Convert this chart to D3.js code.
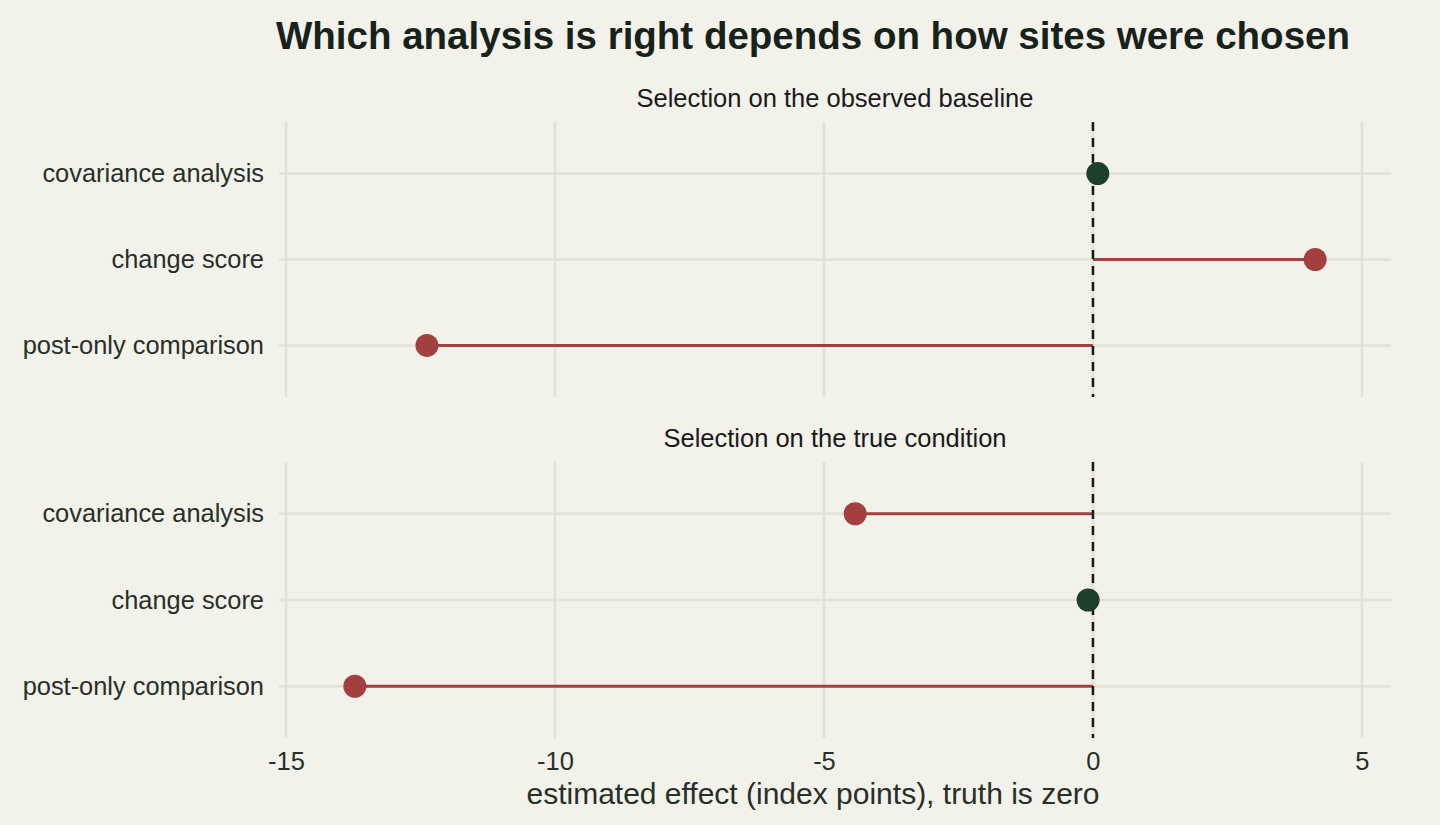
<!DOCTYPE html>
<html>
<head>
<meta charset="utf-8">
<script src="https://cdn.jsdelivr.net/npm/d3@7"></script>
<style>
  body { margin: 0; background: #f2f1ea; }
  svg { display: block; font-family: "Liberation Sans", Arial, sans-serif; }
</style>
</head>
<body>
<div id="chart"></div>
<script>
const width = 1440;
const height = 825;

// data
const panels = ["Selection on the observed baseline", "Selection on the true condition"];
const methods = ["covariance analysis", "change score", "post-only comparison"];
const observedBaseline = [0.09, 4.13, -12.38];
const trueCondition = [-4.42, -0.09, -13.72];
const xTicks = [-15, -10, -5, 0, 5];

const panelValues = [observedBaseline, trueCondition];

const bg = "#f2f1ea";
const gridColor = "#e2e1d6";
const red = "#a33f3e";
const green = "#1d3f2c";
const textColor = "#263029";

const svg = d3.select("#chart").append("svg")
  .attr("width", width)
  .attr("height", height);

svg.append("rect")
  .attr("width", width)
  .attr("height", height)
  .attr("fill", bg);

const x = d3.scaleLinear()
  .domain([-15.13, 5.54])
  .range([279, 1391]);

// panel vertical extents
const panelBoxes = [
  { top: 122, bottom: 397 },
  { top: 462, bottom: 738 }
];

// title
svg.append("text")
  .attr("x", 813)
  .attr("y", 49)
  .attr("text-anchor", "middle")
  .attr("font-size", 38.5)
  .attr("font-weight", "bold")
  .attr("fill", "#17221a")
  .text("Which analysis is right depends on how sites were chosen");

panels.forEach((name, i) => {
  const box = panelBoxes[i];
  const y = d3.scalePoint()
    .domain(methods)
    .range([box.top, box.bottom])
    .padding(0.6);

  const g = svg.append("g");

  // strip label
  g.append("text")
    .attr("x", (x.range()[0] + x.range()[1]) / 2)
    .attr("y", box.top - 15)
    .attr("text-anchor", "middle")
    .attr("font-size", 25.5)
    .attr("fill", "#1a1a1a")
    .text(name);

  // vertical grid
  g.append("g")
    .selectAll("line")
    .data(xTicks)
    .enter().append("line")
    .attr("x1", d => x(d))
    .attr("x2", d => x(d))
    .attr("y1", box.top)
    .attr("y2", box.bottom)
    .attr("stroke", gridColor)
    .attr("stroke-width", 2.5);

  // horizontal grid
  g.append("g")
    .selectAll("line")
    .data(methods)
    .enter().append("line")
    .attr("x1", x.range()[0])
    .attr("x2", x.range()[1])
    .attr("y1", d => y(d))
    .attr("y2", d => y(d))
    .attr("stroke", gridColor)
    .attr("stroke-width", 2.5);

  // y labels
  const yAxis = d3.axisLeft(y).tickSize(0).tickPadding(15);
  const ya = g.append("g")
    .attr("transform", `translate(${x.range()[0]},0)`)
    .call(yAxis);
  ya.select(".domain").remove();
  ya.selectAll("text")
    .attr("font-size", 25.4)
    .attr("font-family", "Liberation Sans, Arial, sans-serif")
    .attr("fill", textColor);

  const rows = methods.map((m, j) => ({ method: m, value: panelValues[i][j] }));

  // segments from zero
  g.append("g")
    .selectAll("line")
    .data(rows.filter(d => Math.abs(d.value) >= 0.5))
    .enter().append("line")
    .attr("x1", x(0))
    .attr("x2", d => x(d.value))
    .attr("y1", d => y(d.method))
    .attr("y2", d => y(d.method))
    .attr("stroke", red)
    .attr("stroke-width", 3);

  // zero reference
  g.append("line")
    .attr("x1", x(0))
    .attr("x2", x(0))
    .attr("y1", box.top)
    .attr("y2", box.bottom)
    .attr("stroke", "#1a1a1a")
    .attr("stroke-width", 2.5)
    .attr("stroke-dasharray", "9,7");

  // points
  g.append("g")
    .selectAll("circle")
    .data(rows)
    .enter().append("circle")
    .attr("cx", d => x(d.value))
    .attr("cy", d => y(d.method))
    .attr("r", 11.5)
    .attr("fill", d => Math.abs(d.value) < 0.5 ? green : red);
});

// x axis under bottom panel
const xAxis = d3.axisBottom(x).tickValues(xTicks).tickSize(0).tickPadding(14)
  .tickFormat(d3.format("d"));
const xa = svg.append("g")
  .attr("transform", `translate(0,${panelBoxes[1].bottom})`)
  .call(xAxis);
xa.select(".domain").remove();
xa.selectAll("text")
  .attr("font-size", 25.5)
  .attr("font-family", "Liberation Sans, Arial, sans-serif")
  .attr("fill", textColor)
  .text(d => d < 0 ? "-" + Math.abs(d) : d);

svg.append("text")
  .attr("x", 813)
  .attr("y", 804)
  .attr("text-anchor", "middle")
  .attr("font-size", 30)
  .attr("fill", textColor)
  .text("estimated effect (index points), truth is zero");
</script>
</body>
</html>
